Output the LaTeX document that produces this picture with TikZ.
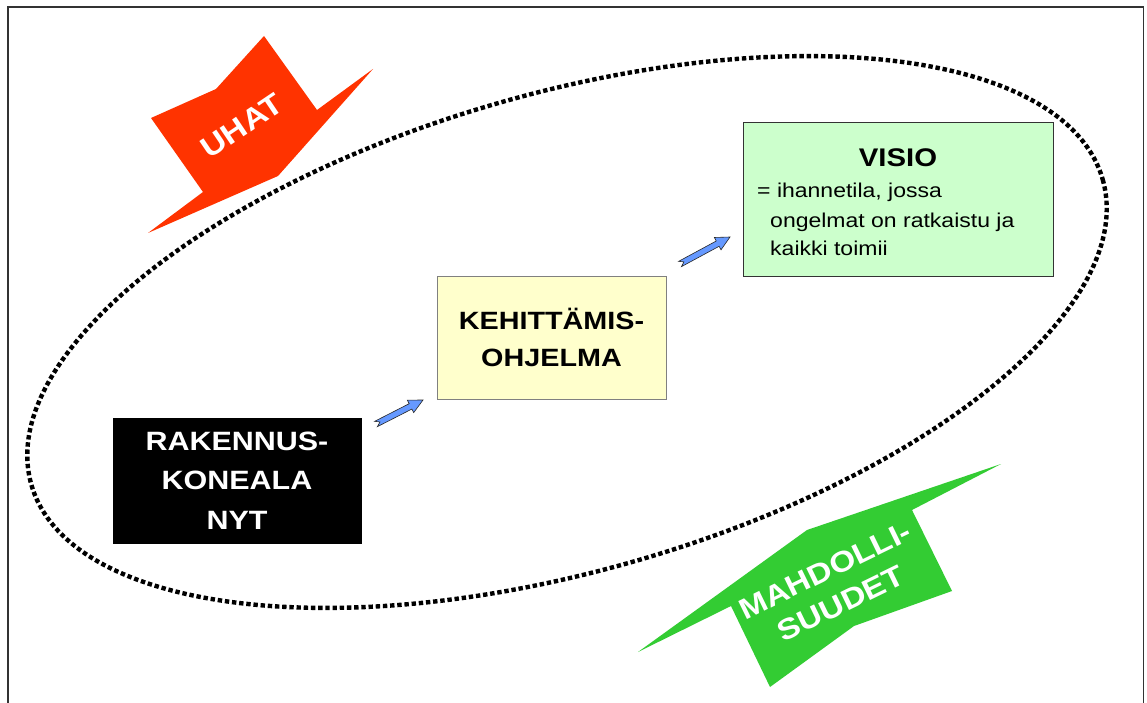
\documentclass[tikz,border=0pt]{standalone}
\usepackage{fontspec}
\setmainfont{Liberation Sans}[FakeStretch=1.15]
\usetikzlibrary{calc}
\definecolor{uhatred}{HTML}{FF3300}
\definecolor{mahgreen}{HTML}{33CC33}
\definecolor{visiogreen}{HTML}{CCFFCC}
\definecolor{kehyellow}{HTML}{FFFFCC}
\definecolor{arrowblue}{HTML}{6699FF}
\definecolor{framegray}{HTML}{333333}
\newcommand\blockarrow[2]{%
  \filldraw[barrow]
    ($(#1)!3pt!90:(#2)$) -- ($(#1)!4.5pt!(#2)$) -- ($(#1)!3pt!-90:(#2)$)
    -- ($(#2)!14pt!(#1)!3pt!90:(#1)$) -- ($(#2)!14pt!(#1)!7pt!90:(#1)$)
    -- (#2)
    -- ($(#2)!14pt!(#1)!7pt!-90:(#1)$) -- ($(#2)!14pt!(#1)!3pt!-90:(#1)$)
    -- cycle;}
\begin{document}
\begin{tikzpicture}[x=1pt,y=-1pt,
  boxbase/.style={draw, inner sep=0pt, outer sep=0pt, align=center},
  nowbox/.style={boxbase, fill=black, text=white, minimum width=248pt, minimum height=125pt,
    font=\bfseries\fontsize{26.5}{39.5}\selectfont},
  kehbox/.style={boxbase, draw=gray, line width=0.8pt, fill=kehyellow, minimum width=229pt, minimum height=123pt,
    font=\bfseries\fontsize{25}{37}\selectfont},
  visbox/.style={boxbase, draw=black!80, line width=0.8pt, fill=visiogreen, minimum width=310pt, minimum height=154pt},
  bodytext/.style={anchor=base west, inner sep=0pt, font=\fontsize{20}{28}\selectfont},
  ell/.style={draw=black, line width=4.4pt, dash pattern=on 4.4pt off 2.8pt},
  barrow/.style={fill=arrowblue, draw=black!85, line width=0.6pt, line join=miter},
  flagtext/.style={text=white, align=center, inner sep=0pt}
]
\useasboundingbox (0,0) rectangle (1147,703);
\fill[white] (0,0) rectangle (1147,703);
% frame
\draw[framegray, line width=1.4pt] (8,703) -- (8,7) -- (1143.5,7) -- (1143.5,703);

% threats flag
\fill[uhatred] (264,36) -- (317,110) -- (373,69) -- (278,176) -- (148,233) -- (203,192) -- (151,118) -- (216,89) -- cycle;
\node[flagtext, rotate=34, font=\bfseries\fontsize{29.5}{35}\selectfont] (uhat) at (242,126) {UHAT};

% opportunities flag
\fill[mahgreen] (1001,464) -- (912,510) -- (952,591) -- (854,626) -- (770,687) -- (731,606) -- (638,652) -- (807,530) -- cycle;
\node[flagtext, rotate=26, font=\bfseries\fontsize{29}{37}\selectfont] (mahd) at (833,587) {MAHDOLLI-\\SUUDET};

% dotted ellipse
\draw[ell, shift={(567,332)}, rotate=15.9] (0,0) ellipse [x radius=557, y radius=239];

% boxes
\node[nowbox] (nyt) at (237,480.5) {RAKENNUS-\\KONEALA\\NYT};
\node[kehbox] (keh) at (551.5,337.5) {KEHITTÄMIS-\\OHJELMA};
\node[visbox] (visio) at (898,199) {};
\node[anchor=base, inner sep=0pt, font=\bfseries\fontsize{25.5}{30}\selectfont] (visiot) at (898,167) {VISIO};
\node[bodytext] (vl1) at (757,198) {= ihannetila, jossa};
\node[bodytext] (vl2) at (770,227) {ongelmat on ratkaistu ja};
\node[bodytext] (vl3) at (770,255) {kaikki toimii};

% connectors
\coordinate (a1s) at ($(nyt.north east)+(15,6)$);
\coordinate (a1e) at ($(keh.south west)+(-14,1)$);
\coordinate (a2s) at ($(keh.north east)+(14,-12)$);
\coordinate (a2e) at ($(visio.south west)+(-13,-39)$);
\blockarrow{a1s}{a1e}
\blockarrow{a2s}{a2e}
\end{tikzpicture}
\end{document}
